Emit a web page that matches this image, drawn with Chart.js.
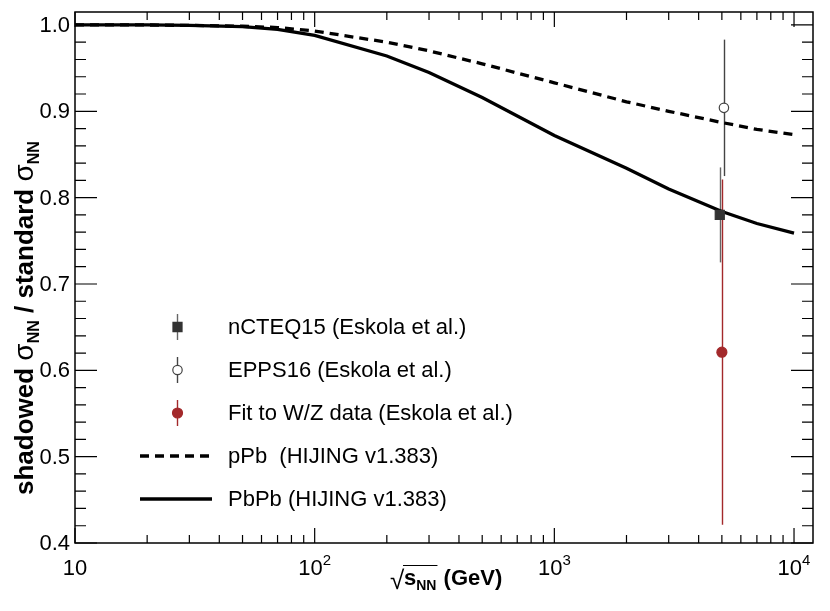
<!DOCTYPE html>
<html>
<head>
<meta charset="utf-8">
<script src="https://cdn.jsdelivr.net/npm/chart.js@4.4.1/dist/chart.umd.min.js"></script>
<style>
  html, body { margin: 0; padding: 0; background: #fff; }
  #wrap { width: 830px; height: 611px; }
</style>
</head>
<body>
<div id="wrap"><canvas id="shadowChart" width="830" height="611"></canvas></div>
<script>
// HIJING v1.383 shadowing curves
const energies  = [10, 20, 30, 50, 70, 100, 200, 300, 500, 1000, 2000, 3000, 5000, 7000, 10000];
const pPbRatio  = [1.0, 1.0, 0.9995, 0.9985, 0.997, 0.993, 0.980, 0.970, 0.955, 0.933, 0.911, 0.900, 0.887, 0.879, 0.873];
const PbPbRatio = [1.0, 1.0, 0.9995, 0.998, 0.995, 0.988, 0.964, 0.945, 0.916, 0.872, 0.834, 0.810, 0.784, 0.770, 0.759];

// Eskola et al. points at 5.02 TeV (slightly shifted so the bars don't overlap)
const pointNames  = ['nCTEQ15 (Eskola et al.)', 'EPPS16 (Eskola et al.)', 'Fit to W/Z data (Eskola et al.)'];
const pointEnergy = [4900, 5100, 5000];
const pointRatio  = [0.780, 0.904, 0.621];
const pointError  = [0.055, 0.079, 0.200];

const lineNames = ['pPb  (HIJING v1.383)', 'PbPb (HIJING v1.383)'];

// axis ticks
const xMajorTicks = [10, 100, 1000, 10000];
const xTickExponents = ['', '2', '3', '4'];
const yMajorTicks = [0.4, 0.5, 0.6, 0.7, 0.8, 0.9, 1.0];
const yTickLabels = ['0.4', '0.5', '0.6', '0.7', '0.8', '0.9', '1.0'];

const FONT = '"Liberation Sans", Arial, Helvetica, sans-serif';
const markerStyles = [
  { bar: '#666666', fill: '#333333', border: '#333333', shape: 'rect', r: 6.4 },
  { bar: '#444444', fill: '#ffffff', border: '#444444', shape: 'circle', r: 4.7 },
  { bar: '#a3292b', fill: '#a3292b', border: '#a3292b', shape: 'circle', r: 5 }
];

function drawMarker(ctx, style, px, py, r) {
  ctx.save();
  ctx.fillStyle = style.fill;
  ctx.strokeStyle = style.border;
  ctx.lineWidth = 1.2;
  ctx.beginPath();
  if (style.shape === 'rect') {
    const s = r * Math.SQRT1_2;
    ctx.rect(px - s, py - s, 2 * s, 2 * s);
  } else {
    ctx.arc(px, py, r, 0, Math.PI * 2);
  }
  ctx.fill();
  ctx.stroke();
  ctx.restore();
}

const rootFrame = {
  id: 'rootFrame',
  beforeDatasetsDraw(chart) {
    const { ctx, scales: { x, y } } = chart;
    pointEnergy.forEach((e, i) => {
      const px = Math.round(x.getPixelForValue(e)) + 0.5;
      ctx.save();
      ctx.strokeStyle = markerStyles[i].bar;
      ctx.lineWidth = 1.4;
      ctx.beginPath();
      ctx.moveTo(px, y.getPixelForValue(pointRatio[i] + pointError[i]));
      ctx.lineTo(px, y.getPixelForValue(pointRatio[i] - pointError[i]));
      ctx.stroke();
      ctx.restore();
    });
  },
  afterDraw(chart) {
    const { ctx, chartArea: a, scales: { x, y } } = chart;
    ctx.save();
    ctx.strokeStyle = '#000';
    ctx.fillStyle = '#000';

    // frame
    ctx.lineWidth = 1.5;
    ctx.strokeRect(a.left, a.top, a.right - a.left, a.bottom - a.top);

    // x ticks, bottom and top, pointing inward
    ctx.lineWidth = 1.2;
    ctx.beginPath();
    xMajorTicks.forEach((d, i) => {
      const px = x.getPixelForValue(d);
      ctx.moveTo(px, a.bottom); ctx.lineTo(px, a.bottom - 15);
      ctx.moveTo(px, a.top); ctx.lineTo(px, a.top + 15);
      if (i < xMajorTicks.length - 1) {
        for (let k = 2; k <= 9; k++) {
          const mx = x.getPixelForValue(d * k);
          ctx.moveTo(mx, a.bottom); ctx.lineTo(mx, a.bottom - 8);
          ctx.moveTo(mx, a.top); ctx.lineTo(mx, a.top + 8);
        }
      }
    });
    // y ticks, left and right
    for (let v = 0.4; v <= 1.0001; v += 0.02) {
      const py = y.getPixelForValue(v);
      const major = Math.abs(v * 10 - Math.round(v * 10)) < 1e-6;
      const len = major ? 22 : 11;
      ctx.moveTo(a.left, py); ctx.lineTo(a.left + len, py);
      ctx.moveTo(a.right, py); ctx.lineTo(a.right - len, py);
    }
    ctx.stroke();

    // x tick labels
    ctx.textBaseline = 'alphabetic';
    xMajorTicks.forEach((d, i) => {
      const px = x.getPixelForValue(d);
      ctx.font = '22px ' + FONT;
      const wBase = ctx.measureText('10').width;
      ctx.font = '15px ' + FONT;
      const wExp = xTickExponents[i] ? ctx.measureText(xTickExponents[i]).width : 0;
      const start = px - (wBase + wExp) / 2;
      ctx.textAlign = 'left';
      ctx.font = '22px ' + FONT;
      ctx.fillText('10', start, 575);
      if (wExp) {
        ctx.font = '15px ' + FONT;
        ctx.fillText(xTickExponents[i], start + wBase, 565);
      }
    });

    // y tick labels
    ctx.font = '22px ' + FONT;
    ctx.textAlign = 'right';
    ctx.textBaseline = 'middle';
    yMajorTicks.forEach((v, i) => {
      ctx.fillText(yTickLabels[i], a.left - 5, y.getPixelForValue(v) + 1);
    });

    // x title: sqrt(s_NN) (GeV)
    ctx.textAlign = 'left';
    ctx.textBaseline = 'alphabetic';
    let tx = 392;
    const base = 585;
    ctx.font = '26px ' + FONT;
    ctx.fillText('\u221A', tx - 2, base + 4);
    tx += 12;
    const rootStart = tx;
    ctx.font = 'bold 22px ' + FONT;
    ctx.fillText('s', tx, base);
    tx += ctx.measureText('s').width;
    ctx.font = 'bold 14px ' + FONT;
    ctx.fillText('NN', tx, base + 5);
    tx += ctx.measureText('NN').width + 1;
    ctx.lineWidth = 1.2;
    ctx.beginPath();
    ctx.moveTo(rootStart - 1, base - 19.5);
    ctx.lineTo(tx, base - 19.5);
    ctx.stroke();
    ctx.font = 'bold 22px ' + FONT;
    ctx.fillText(' (GeV)', tx, base);

    // y title, rotated
    ctx.save();
    ctx.translate(33, 495);
    ctx.rotate(-Math.PI / 2);
    let ty = 0;
    const piece = (txt, font, dy) => {
      ctx.font = font;
      ctx.fillText(txt, ty, dy);
      ty += ctx.measureText(txt).width;
    };
    piece('shadowed ', 'bold 26px ' + FONT, 0);
    piece('\u03C3', '28px ' + FONT, 0);
    piece('NN', 'bold 16px ' + FONT, 6);
    piece(' / standard ', 'bold 26px ' + FONT, 0);
    piece('\u03C3', '28px ' + FONT, 0);
    piece('NN', 'bold 16px ' + FONT, 6);
    ctx.restore();

    // legend
    const rows = [327, 370, 413, 456, 499];
    const mx = 177;
    ctx.font = '22px ' + FONT;
    ctx.textAlign = 'left';
    ctx.textBaseline = 'middle';
    pointNames.forEach((name, i) => {
      const st = markerStyles[i];
      ctx.strokeStyle = st.bar;
      ctx.lineWidth = 1.4;
      ctx.beginPath();
      ctx.moveTo(mx + 0.5, rows[i] - 13);
      ctx.lineTo(mx + 0.5, rows[i] + 13);
      ctx.stroke();
      drawMarker(ctx, st, mx + 0.5, rows[i], st.r);
      ctx.fillStyle = '#000';
      ctx.fillText(name, 228, rows[i] + 1);
    });
    lineNames.forEach((name, j) => {
      const ry = rows[3 + j];
      ctx.strokeStyle = '#000';
      ctx.lineWidth = 3.5;
      ctx.setLineDash(j === 0 ? [9, 6] : []);
      ctx.beginPath();
      ctx.moveTo(140, ry);
      ctx.lineTo(212, ry);
      ctx.stroke();
      ctx.setLineDash([]);
      ctx.fillText(name, 228, ry + 1);
    });
    ctx.restore();
  }
};

const curveData = (vals) => energies.map((e, i) => ({ x: e, y: vals[i] }));

const datasets = [
  {
    label: lineNames[0],
    data: curveData(pPbRatio),
    showLine: true,
    borderColor: '#000',
    borderWidth: 3.3,
    borderDash: [9, 6],
    pointRadius: 0,
    tension: 0,
    order: 2
  },
  {
    label: lineNames[1],
    data: curveData(PbPbRatio),
    showLine: true,
    borderColor: '#000',
    borderWidth: 3.3,
    pointRadius: 0,
    tension: 0,
    order: 2
  }
];
pointNames.forEach((name, i) => {
  const st = markerStyles[i];
  datasets.push({
    label: name,
    data: [{ x: pointEnergy[i], y: pointRatio[i] }],
    pointStyle: st.shape,
    pointRadius: st.r,
    backgroundColor: st.fill,
    borderColor: st.border,
    borderWidth: 1.2,
    showLine: false,
    order: 0
  });
});

const ctx = document.getElementById('shadowChart').getContext('2d');
new Chart(ctx, {
  type: 'scatter',
  data: { datasets },
  options: {
    responsive: false,
    animation: false,
    layout: { padding: { left: 75, right: 17, top: 12, bottom: 68 } },
    plugins: {
      legend: { display: false },
      tooltip: { enabled: false }
    },
    scales: {
      x: { type: 'logarithmic', min: 10, max: 12000, display: false },
      y: { type: 'linear', min: 0.4, max: 1.015, display: false }
    }
  },
  plugins: [rootFrame]
});
</script>
</body>
</html>
